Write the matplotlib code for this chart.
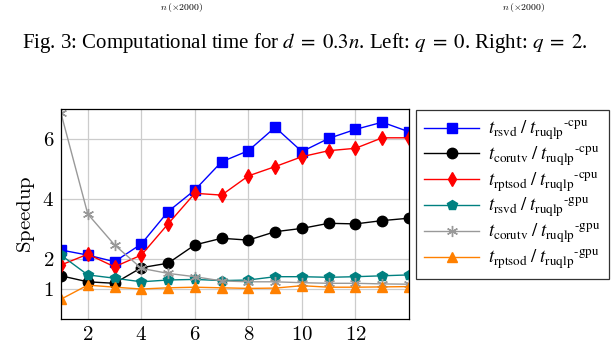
import matplotlib
matplotlib.use("Agg")
import matplotlib.pyplot as plt
from matplotlib.font_manager import FontProperties
import numpy as np

plt.rcParams['mathtext.fontset'] = 'cm'
plt.rcParams['font.family'] = 'serif'
plt.rcParams['font.serif'] = ['Liberation Serif', 'DejaVu Serif']

# x = number of columns index, y = speedup
x = np.arange(1, 15)
rsvd_cpu = [2.30, 2.13, 1.91, 2.50, 3.58, 4.30, 5.24, 5.61, 6.39, 5.58, 6.02, 6.32, 6.56, 6.24]
corutv_cpu = [1.44, 1.24, 1.19, 1.71, 1.86, 2.47, 2.69, 2.63, 2.91, 3.02, 3.19, 3.17, 3.28, 3.36]
rptsod_cpu = [1.80, 2.16, 1.74, 2.13, 3.17, 4.19, 4.13, 4.77, 5.08, 5.41, 5.61, 5.69, 6.04, 6.04]
rsvd_gpu = [2.13, 1.47, 1.36, 1.24, 1.30, 1.32, 1.28, 1.30, 1.41, 1.41, 1.39, 1.41, 1.44, 1.47]
corutv_gpu = [6.86, 3.50, 2.47, 1.69, 1.52, 1.41, 1.27, 1.24, 1.24, 1.21, 1.19, 1.19, 1.17, 1.16]
rptsod_gpu = [0.66, 1.13, 1.06, 1.00, 1.04, 1.06, 1.04, 1.02, 1.03, 1.11, 1.06, 1.06, 1.07, 1.08]

labels = [
    r'$t_{\mathrm{rsvd}}\;/\;t_{\mathrm{ruqlp}}{}^{\mathrm{\text{-}cpu}}$',
    r'$t_{\mathrm{corutv}}\;/\;t_{\mathrm{ruqlp}}{}^{\mathrm{\text{-}cpu}}$',
    r'$t_{\mathrm{rptsod}}\;/\;t_{\mathrm{ruqlp}}{}^{\mathrm{\text{-}cpu}}$',
    r'$t_{\mathrm{rsvd}}\;/\;t_{\mathrm{ruqlp}}{}^{\mathrm{\text{-}gpu}}$',
    r'$t_{\mathrm{corutv}}\;/\;t_{\mathrm{ruqlp}}{}^{\mathrm{\text{-}gpu}}$',
    r'$t_{\mathrm{rptsod}}\;/\;t_{\mathrm{ruqlp}}{}^{\mathrm{\text{-}gpu}}$',
]
series = [rsvd_cpu, corutv_cpu, rptsod_cpu, rsvd_gpu, corutv_gpu, rptsod_gpu]
colors = ['#0000ff', 'black', '#ff0000', '#008080', '#999999', '#ff8000']
markers = ['s', 'o', 'd', 'p', (6, 2, 0), '^']
sizes = [7.5, 7.5, 7.5, 7.5, 8, 7]

fig = plt.figure(figsize=(6.12, 3.46), dpi=100)
ax = fig.add_axes([61/612, 1-319/346, 348/612, 210/346])

for ys, lab, c, m, s in zip(series, labels, colors, markers, sizes):
    ax.plot(x, ys, color=c, marker=m, markersize=s, linewidth=1.0,
            markeredgewidth=1.0, label=lab)

ax.set_xlim(1, 14)
ax.set_ylim(0, 7)
ax.set_xticks([2, 4, 6, 8, 10, 12])
ax.set_yticks([1, 2, 4, 6])
ax.set_xticklabels(['$%d$' % v for v in [2, 4, 6, 8, 10, 12]])
ax.set_yticklabels(['$%d$' % v for v in [1, 2, 4, 6]])
ax.tick_params(labelsize=15, length=0, pad=5)
ax.grid(True, color='#cccccc', linewidth=0.9)
ax.set_axisbelow(True)
for sp in ax.spines.values():
    sp.set_linewidth(0.9)
ax.set_ylabel(r'$\mathrm{Speedup}$', fontsize=15, labelpad=4)

leg = fig.legend(loc='upper left', bbox_to_anchor=(416/612, 1-110/346),
                 prop=FontProperties(size=13.5, math_fontfamily='stix'),
                 frameon=True, fancybox=False,
                 edgecolor='black', handlelength=2.9, labelspacing=0.13,
                 borderpad=0.45, handletextpad=0.5, borderaxespad=0)
leg.get_frame().set_linewidth(0.9)

fig.text(0.498, 1-43/346,
         r'Fig. 3: Computational time for $d\;=\;0.3n$. Left: $q\;=\;0$. Right: $q\;=\;2$.',
         ha='center', va='center', fontsize=15, math_fontfamily='stix')
fig.text(181/612, 1-1/346, r'$n\,(\times 2000)$', ha='center', va='top', fontsize=7)
fig.text(523/612, 1-1/346, r'$n\,(\times 2000)$', ha='center', va='top', fontsize=7)

fig.savefig('out.png', dpi=100)
